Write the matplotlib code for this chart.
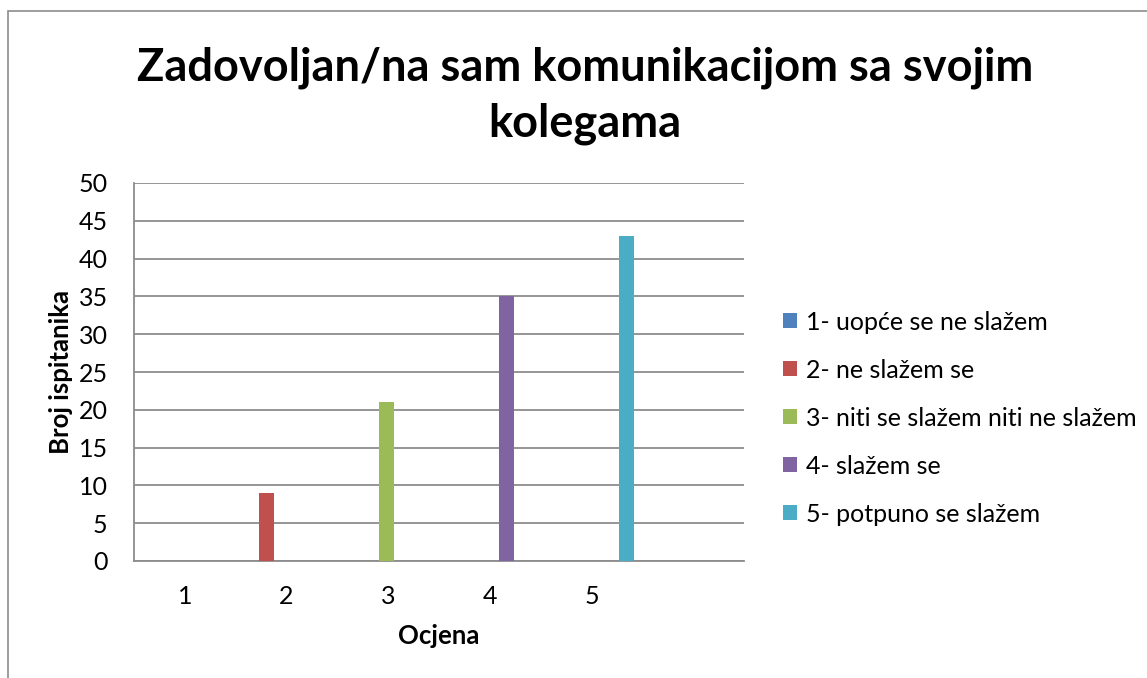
import matplotlib.pyplot as plt
import numpy as np
from matplotlib.patches import Rectangle

categories = ['1', '2', '3', '4', '5', '']
series_names = ['1- uopće se ne slažem', '2- ne slažem se',
                '3- niti se slažem niti ne slažem', '4- slažem se',
                '5- potpuno se slažem']
s1 = [0, 0, 0, 0, 0, 0]
s2 = [0, 9, 0, 0, 0, 0]
s3 = [0, 0, 21, 0, 0, 0]
s4 = [0, 0, 0, 35, 0, 0]
s5 = [0, 0, 0, 0, 43, 0]
colors = ['#4F81BD', '#C0504D', '#9BBB59', '#8064A2', '#4BACC6']

plt.rcParams['font.family'] = ['Lato', 'DejaVu Sans']

fig = plt.figure(figsize=(11.47, 6.78), dpi=100)
ax = fig.add_axes([134/1147, 1 - 561/678, 610/1147, 378/678])

# outer chart frame (cropped at right / bottom like the source)
fig.patches.append(Rectangle((8/1147, -0.1), 1.2, 1 - 11/678 + 0.1,
                             transform=fig.transFigure, fill=False,
                             edgecolor='#8c8c8c', linewidth=1.2))

x = np.arange(len(categories))
step = 0.18
width = 0.152
for k, vals in enumerate([s1, s2, s3, s4, s5]):
    ax.bar(x + (k - 2) * step - 0.015, vals, width=width, color=colors[k],
           label=series_names[k], zorder=3)

ax.set_xlim(-0.5, len(categories) - 0.5)
ax.set_ylim(0, 50)
ax.set_yticks(range(0, 51, 5))
ax.set_xticks(x)
ax.set_xticklabels(categories)
ax.tick_params(axis='both', length=0, labelsize=18)
ax.tick_params(axis='y', pad=19)
ax.tick_params(axis='x', pad=17)
ax.yaxis.grid(True, color='#8c8c8c', linewidth=1.3, zorder=0)
for s in ['top', 'right']:
    ax.spines[s].set_visible(False)
for s in ['left', 'bottom']:
    ax.spines[s].set_color('#8c8c8c')
    ax.spines[s].set_linewidth(1.3)

ax.set_xlabel('Ocjena', fontsize=18.5, fontweight='bold', labelpad=12)
ax.set_ylabel('Broj ispitanika', fontsize=18.5, fontweight='bold', labelpad=4)

fig.text(585/1147, 1 - 96/678, 'Zadovoljan/na sam komunikacijom sa svojim\nkolegama',
         ha='center', va='center', fontsize=32.5, fontweight='bold',
         linespacing=1.4)

ax.legend(loc='center left', bbox_to_anchor=(1.027, 0.378), frameon=False,
          fontsize=18, handlelength=0.56, handleheight=0.56,
          handletextpad=0.36, labelspacing=1.0)

fig.savefig('out.png', dpi=100)
